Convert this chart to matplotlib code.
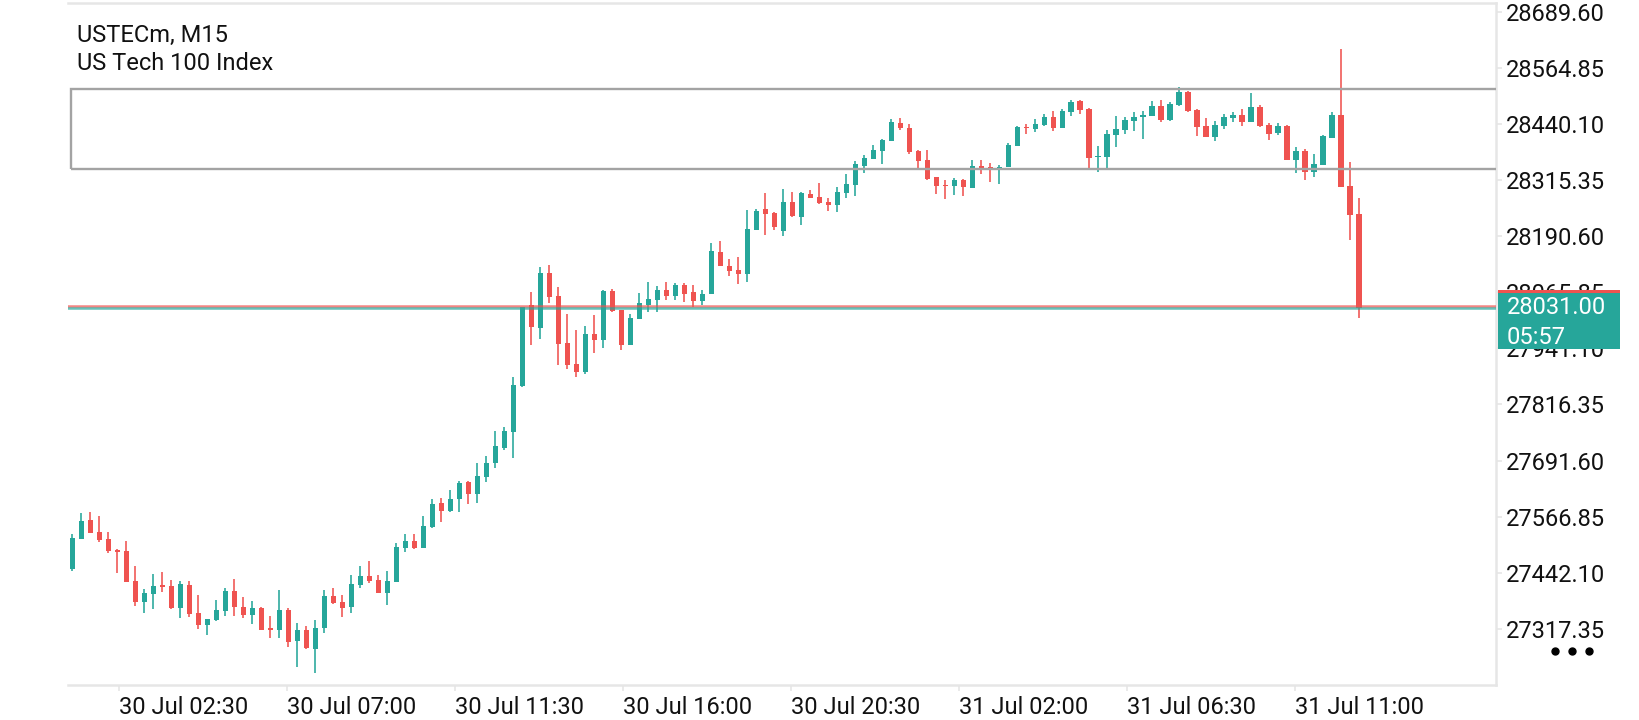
import matplotlib
matplotlib.use('Agg')
import matplotlib.pyplot as plt
from matplotlib.patches import Rectangle
from matplotlib.lines import Line2D

plt.rcParams['font.family'] = ['Roboto', 'DejaVu Sans']

# ---------------- data ----------------
opens = [27450.3, 27517.0, 27559.3, 27532.6, 27517.0, 27492.6, 27490.3, 27423.6, 27377.5, 27395.3,
         27414.7, 27412.4, 27364.2, 27414.7, 27352.4, 27326.3, 27337.5, 27357.5, 27401.3, 27365.7,
         27348.6, 27363.5, 27316.8, 27315.2, 27359.0, 27290.7, 27314.5, 27272.9, 27318.3, 27390.2,
         27377.5, 27366.4, 27414.7, 27434.7, 27425.8, 27397.5, 27422.0, 27497.7, 27511.9, 27497.7,
         27544.4, 27596.5, 27580.0, 27605.4, 27643.9, 27617.8, 27655.6, 27686.8, 27720.2, 27755.8,
         27857.5, 28037.7, 27987.2, 28108.9, 28057.7, 27953.1, 27906.4, 27888.6, 27973.2, 27959.8,
         28068.8, 28026.6, 27948.7, 28006.5, 28037.7, 28048.8, 28071.1, 28057.7, 28082.2, 28066.6,
         28046.6, 28062.2, 28155.6, 28124.5, 28115.6, 28106.7, 28204.6, 28251.3, 28242.4, 28202.3,
         28266.9, 28233.5, 28284.7, 28278.0, 28266.9, 28260.2, 28286.9, 28304.7, 28347.0, 28362.5,
         28380.3, 28402.6, 28442.6, 28431.5, 28380.3, 28360.3, 28322.5, 28304.7, 28302.5, 28315.8,
         28298.0, 28347.0, 28344.7, 28342.5, 28344.7, 28391.5, 28433.7, 28429.3, 28438.2, 28456.0,
         28431.5, 28467.8, 28491.6, 28473.8, 28367.0, 28367.0, 28415.9, 28427.1, 28447.1, 28456.6,
         28458.2, 28480.5, 28449.3, 28482.7, 28511.6, 28471.6, 28436.0, 28411.5, 28436.0, 28453.8,
         28460.4, 28444.9, 28478.2, 28438.2, 28420.4, 28436.0, 28360.3, 28380.3, 28334.3, 28349.2,
         28409.9, 28460.4, 28302.5, 28240.2]
highs = [27528.1, 27575.5, 27577.1, 27568.2, 27532.6, 27494.0, 27512.6, 27456.9, 27405.8, 27439.1,
         27443.6, 27425.8, 27423.6, 27423.6, 27392.4, 27340.0, 27381.3, 27408.0, 27428.0, 27388.0,
         27379.1, 27365.7, 27345.7, 27403.5, 27363.5, 27330.1, 27323.4, 27336.8, 27403.5, 27407.3,
         27392.4, 27436.9, 27456.9, 27468.1, 27436.9, 27445.8, 27507.5, 27528.1, 27528.1, 27568.2,
         27605.4, 27607.6, 27626.1, 27646.7, 27646.7, 27686.8, 27701.7, 27757.3, 27766.9, 27878.1,
         28033.9, 28066.6, 28122.2, 28126.7, 28077.7, 28017.7, 27982.1, 27991.0, 28015.4, 28071.1,
         28073.3, 28026.6, 28017.7, 28064.4, 28088.9, 28080.0, 28088.9, 28086.6, 28086.6, 28082.2,
         28071.1, 28175.6, 28180.1, 28140.0, 28144.5, 28249.1, 28251.3, 28286.9, 28244.6, 28295.8,
         28289.1, 28289.1, 28293.6, 28309.1, 28275.8, 28300.2, 28329.2, 28358.1, 28371.4, 28393.7,
         28407.0, 28451.5, 28453.8, 28440.4, 28382.6, 28382.6, 28322.5, 28315.8, 28320.3, 28318.0,
         28360.3, 28360.3, 28353.6, 28349.2, 28397.5, 28436.0, 28440.4, 28450.9, 28462.7, 28469.3,
         28473.8, 28493.8, 28493.8, 28476.0, 28391.5, 28427.1, 28458.2, 28456.0, 28467.1, 28469.3,
         28491.6, 28493.8, 28489.4, 28522.7, 28513.8, 28473.8, 28453.8, 28447.1, 28462.7, 28467.1,
         28473.8, 28509.4, 28482.7, 28442.6, 28442.6, 28438.0, 28389.2, 28384.8, 28373.7, 28415.9,
         28467.1, 28607.3, 28355.9, 28275.8]
lows = [27446.5, 27517.0, 27531.0, 27511.0, 27486.5, 27442.0, 27422.0, 27368.6, 27353.0, 27361.9,
        27399.8, 27361.9, 27341.9, 27344.1, 27317.4, 27304.1, 27335.2, 27346.4, 27346.4, 27341.9,
        27328.6, 27315.2, 27297.4, 27297.4, 27277.4, 27232.9, 27272.9, 27219.5, 27307.2, 27372.4,
        27344.1, 27353.0, 27408.7, 27419.8, 27396.2, 27370.2, 27422.0, 27488.8, 27494.1, 27496.3,
        27542.2, 27555.5, 27577.8, 27577.8, 27594.9, 27597.8, 27644.5, 27675.7, 27715.1, 27697.9,
        27855.9, 27949.3, 27962.0, 28042.8, 27904.2, 27895.3, 27877.5, 27884.2, 27930.9, 27942.0,
        28022.1, 27937.6, 27948.7, 28006.5, 28022.1, 28022.8, 28048.8, 28048.8, 28044.4, 28033.9,
        28037.7, 28062.2, 28124.5, 28102.2, 28084.4, 28088.9, 28204.6, 28193.4, 28204.6, 28191.2,
        28234.1, 28215.7, 28275.8, 28262.4, 28246.8, 28244.6, 28275.8, 28280.2, 28331.4, 28362.5,
        28351.4, 28402.6, 28427.1, 28373.7, 28342.5, 28315.8, 28284.7, 28273.5, 28282.4, 28280.2,
        28298.0, 28329.2, 28311.4, 28306.9, 28344.7, 28391.5, 28418.2, 28423.3, 28436.0, 28424.8,
        28431.5, 28458.2, 28462.7, 28342.5, 28333.6, 28342.5, 28389.2, 28418.2, 28424.8, 28407.0,
        28458.2, 28444.9, 28447.7, 28480.5, 28467.1, 28413.7, 28411.5, 28402.6, 28429.3, 28444.9,
        28436.0, 28444.9, 28433.7, 28404.8, 28415.9, 28360.3, 28331.4, 28315.8, 28323.1, 28349.2,
        28409.9, 28300.9, 28182.3, 28009.4]
closes = [27518.6, 27557.1, 27531.0, 27514.8, 27490.3, 27488.8, 27422.0, 27377.5, 27396.9, 27412.4,
          27410.9, 27364.2, 27416.9, 27350.8, 27326.3, 27339.0, 27359.0, 27401.3, 27366.4, 27348.6,
          27363.5, 27315.2, 27315.2, 27359.0, 27288.5, 27314.5, 27275.2, 27319.0, 27390.2, 27375.3,
          27364.2, 27416.9, 27434.7, 27423.6, 27396.2, 27423.6, 27499.2, 27511.9, 27497.7, 27546.0,
          27594.9, 27580.0, 27606.0, 27641.0, 27617.8, 27656.5, 27685.5, 27724.0, 27757.3, 27859.7,
          28032.6, 27989.4, 28108.9, 28056.1, 27951.6, 27904.2, 27888.6, 27973.2, 27959.8, 28068.8,
          28024.3, 27948.7, 28008.8, 28042.1, 28051.0, 28071.1, 28057.7, 28082.2, 28062.2, 28046.6,
          28062.2, 28157.8, 28124.5, 28114.0, 28106.7, 28206.8, 28246.8, 28240.2, 28211.2, 28266.9,
          28235.7, 28286.9, 28275.8, 28264.6, 28260.2, 28289.1, 28306.9, 28351.4, 28364.8, 28382.6,
          28404.8, 28444.9, 28431.5, 28378.1, 28358.1, 28318.0, 28302.5, 28302.5, 28315.8, 28300.2,
          28347.0, 28342.5, 28342.5, 28344.7, 28393.7, 28433.7, 28431.5, 28440.4, 28456.0, 28432.2,
          28469.3, 28489.4, 28471.6, 28364.8, 28369.2, 28418.2, 28429.3, 28449.3, 28456.0, 28459.8,
          28480.5, 28449.3, 28484.9, 28511.6, 28469.3, 28433.7, 28411.5, 28438.2, 28456.0, 28460.4,
          28444.9, 28478.2, 28436.0, 28418.2, 28436.0, 28360.3, 28380.3, 28334.3, 28351.4, 28413.7,
          28460.4, 28300.9, 28237.9, 28031.0]

price_labels = ["28689.60", "28564.85", "28440.10", "28315.35", "28190.60", "28065.85",
                "27941.10", "27816.35", "27691.60", "27566.85", "27442.10", "27317.35"]
time_labels = ["30 Jul 02:30", "30 Jul 07:00", "30 Jul 11:30", "30 Jul 16:00",
               "30 Jul 20:30", "31 Jul 02:00", "31 Jul 06:30", "31 Jul 11:00"]
zone_top = 28518.3
zone_bottom = 28340.3
bid_price = 28031.00
ask_price = 28034.6
symbol_text = "USTECm, M15"
description_text = "US Tech 100 Index"
countdown_text = "05:57"

# ---------------- styling ----------------
UP = '#26a69a'
DOWN = '#ef5350'
GRID = '#e6e6e6'
TXT = '#111111'
W, H = 1640, 720

fig = plt.figure(figsize=(W / 100, H / 100), dpi=100)
fig.patch.set_facecolor('white')

left_px, right_px, top_px, bottom_px = 68, 1496, 3, 685
ax = fig.add_axes([left_px / W, (H - bottom_px) / H, (right_px - left_px) / W, (bottom_px - top_px) / H])
ax.set_facecolor('white')

n = len(opens)
xs = list(range(n))
cols = [UP if c >= o else DOWN for o, c in zip(opens, closes)]
ax.vlines(xs, lows, highs, colors=cols, lw=1.15, zorder=2)
bottoms = [min(o, c) for o, c in zip(opens, closes)]
heights = [max(abs(c - o), 3.0) for o, c in zip(opens, closes)]
ax.bar(xs, heights, bottom=bottoms, width=0.62, color=cols, edgecolor='none', zorder=2.2)

ax.set_xlim(-0.5, 158.2)
ax.set_ylim(27192.2, 28709.6)

# zone rectangle
ax.add_patch(Rectangle((-0.2, zone_bottom), 400, zone_top - zone_bottom, fill=False,
                       edgecolor='#a3a3a3', lw=1.7, zorder=3))

# current price lines
ax.axhline(ask_price, color=DOWN, lw=1.8, alpha=0.7, zorder=3.2)
ax.axhline(bid_price, color=UP, lw=1.8, alpha=0.7, zorder=3.3)

# spines
for s in ['top', 'right', 'bottom']:
    ax.spines[s].set_color(GRID)
    ax.spines[s].set_linewidth(1.8)
ax.spines['left'].set_visible(False)

# y axis on the right
ax.yaxis.tick_right()
ax.set_yticks([float(v) for v in price_labels])
ax.set_yticklabels(price_labels)
ax.tick_params(axis='y', direction='out', length=4, width=1.2, color=GRID, pad=3,
               labelsize=17, labelcolor=TXT, left=False)

# x axis
tick_pos = [5.17 + 18.667 * k for k in range(len(time_labels))]
ax.set_xticks(tick_pos)
ax.set_xticklabels(time_labels, ha='left')
ax.tick_params(axis='x', direction='out', length=4, width=1.2, color=GRID, pad=4,
               labelsize=17, labelcolor=TXT)

# titles
fig.text(77 / W, (H - 41.7) / H, symbol_text, fontsize=17, color=TXT, va='baseline', ha='left')
fig.text(77 / W, (H - 70) / H, description_text, fontsize=17, color=TXT, va='baseline', ha='left')

# price label box
fig.add_artist(Rectangle((1498 / W, (H - 292.5) / H), 122 / W, 2.5 / H, transform=fig.transFigure,
                         facecolor=DOWN, edgecolor='none', zorder=5))
fig.add_artist(Rectangle((1498 / W, (H - 349) / H), 122 / W, (349 - 292.5) / H, transform=fig.transFigure,
                         facecolor=UP, edgecolor='none', zorder=5))
fig.text(1507 / W, (H - 308) / H, f"{bid_price:.2f}", color='white', fontsize=17, va='center', ha='left', zorder=6)
fig.text(1507 / W, (H - 337) / H, countdown_text, color='white', fontsize=17, va='center', ha='left', zorder=6)

# menu dots
fig.add_artist(Line2D([1555 / W, 1572 / W, 1589 / W], [(H - 651) / H] * 3, transform=fig.transFigure,
                      marker='o', ls='none', ms=5, color='black', zorder=6))

fig.savefig('out.png', dpi=100)
